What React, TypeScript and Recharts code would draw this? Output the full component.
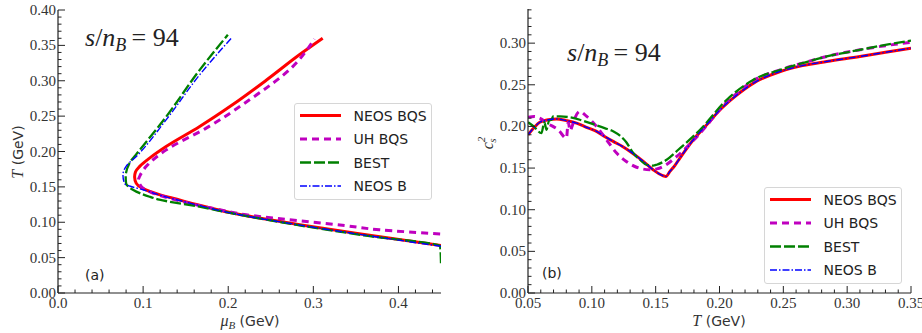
import React from 'react';
import { LineChart, Line, XAxis, YAxis } from 'recharts';

// ---- panel (a): T vs mu_B along s/n_B = 94 (points ordered by rising T) ----
const neosBqsMu = [0.45, 0.362, 0.284, 0.205, 0.16, 0.135, 0.122, 0.108, 0.099, 0.092, 0.09, 0.091, 0.096, 0.108, 0.127, 0.166, 0.205, 0.245, 0.284, 0.311];
const neosBqsT = [0.067, 0.0823, 0.0965, 0.113, 0.126, 0.134, 0.138, 0.1435, 0.148, 0.155, 0.164, 0.171, 0.179, 0.191, 0.207, 0.235, 0.266, 0.301, 0.337, 0.36];

const uhBqsMu = [0.449, 0.3776, 0.3386, 0.264, 0.221, 0.19, 0.15, 0.125, 0.11, 0.1, 0.096, 0.0945, 0.0959, 0.1037, 0.1272, 0.1741, 0.225, 0.2758, 0.3013];
const uhBqsT = [0.0835, 0.0894, 0.095, 0.1045, 0.1106, 0.1176, 0.128, 0.136, 0.142, 0.148, 0.154, 0.16, 0.1647, 0.179, 0.2023, 0.233, 0.273, 0.32, 0.359];

const bestMu = [0.45, 0.449, 0.362, 0.284, 0.205, 0.166, 0.119, 0.1077, 0.088, 0.08, 0.0795, 0.084, 0.096, 0.127, 0.1663, 0.1996];
const bestT = [0.042, 0.066, 0.081, 0.0955, 0.1125, 0.122, 0.132, 0.136, 0.146, 0.155, 0.1646, 0.1835, 0.202, 0.249, 0.315, 0.365];

const neosBMu = [0.45, 0.362, 0.284, 0.205, 0.16, 0.122, 0.0998, 0.086, 0.078, 0.0763, 0.08, 0.092, 0.127, 0.1663, 0.2035];
const neosBT = [0.066, 0.0815, 0.096, 0.1125, 0.1255, 0.1375, 0.146, 0.1505, 0.155, 0.167, 0.179, 0.193, 0.2447, 0.3082, 0.36];

// ---- panel (b): c_s^2 vs T ----
const neosBqsTb = [0.05, 0.055, 0.0592, 0.066, 0.0723, 0.08, 0.088, 0.0957, 0.1037, 0.11, 0.1167, 0.124, 0.13, 0.1353, 0.1403, 0.148, 0.1555, 0.158, 0.1612, 0.165, 0.169, 0.1795, 0.19, 0.2005, 0.213, 0.2266, 0.2476, 0.265, 0.284, 0.31, 0.33, 0.35];
const neosBqsCs2 = [0.19, 0.199, 0.205, 0.208, 0.209, 0.207, 0.204, 0.199, 0.194, 0.188, 0.182, 0.176, 0.17, 0.164, 0.158, 0.148, 0.141, 0.14, 0.146, 0.153, 0.162, 0.184, 0.202, 0.22, 0.237, 0.252, 0.266, 0.273, 0.278, 0.284, 0.289, 0.294];

const uhBqsTb = [0.05, 0.055, 0.059, 0.066, 0.0736, 0.0801, 0.0815, 0.083, 0.0845, 0.0867, 0.0906, 0.096, 0.1037, 0.1115, 0.1194, 0.127, 0.135, 0.1455, 0.151, 0.156, 0.1665, 0.175, 0.19, 0.2005, 0.213, 0.2266, 0.2476, 0.265, 0.284, 0.31, 0.33, 0.35];
const uhBqsCs2 = [0.211, 0.212, 0.21, 0.203, 0.196, 0.186, 0.205, 0.195, 0.2, 0.21, 0.218, 0.212, 0.2, 0.184, 0.168, 0.158, 0.151, 0.148, 0.149, 0.152, 0.164, 0.176, 0.201, 0.221, 0.239, 0.255, 0.268, 0.276, 0.284, 0.292, 0.297, 0.301];

const bestTb = [0.05, 0.0545, 0.0605, 0.0628, 0.0645, 0.0665, 0.0684, 0.0697, 0.075, 0.0906, 0.0945, 0.11, 0.117, 0.122, 0.127, 0.1324, 0.1377, 0.1429, 0.148, 0.1508, 0.1586, 0.1677, 0.1848, 0.2057, 0.2266, 0.2476, 0.265, 0.284, 0.31, 0.33, 0.35];
const bestCs2 = [0.205, 0.2, 0.192, 0.205, 0.196, 0.207, 0.208, 0.212, 0.212, 0.208, 0.206, 0.198, 0.194, 0.189, 0.181, 0.168, 0.16, 0.154, 0.153, 0.154, 0.16, 0.172, 0.196, 0.232, 0.256, 0.268, 0.276, 0.284, 0.292, 0.298, 0.303];

const neosBTb = [0.05, 0.055, 0.0592, 0.066, 0.0723, 0.08, 0.088, 0.0957, 0.1037, 0.11, 0.1167, 0.124, 0.13, 0.1353, 0.1403, 0.148, 0.1555, 0.158, 0.1612, 0.165, 0.169, 0.1795, 0.19, 0.2005, 0.213, 0.2266, 0.2476, 0.265, 0.284, 0.31, 0.33, 0.35];
const neosBCs2 = [0.19, 0.199, 0.205, 0.208, 0.209, 0.207, 0.204, 0.199, 0.194, 0.188, 0.182, 0.176, 0.17, 0.164, 0.158, 0.148, 0.141, 0.14, 0.146, 0.153, 0.162, 0.184, 0.202, 0.22, 0.237, 0.252, 0.266, 0.273, 0.278, 0.284, 0.289, 0.294];

// ---- ticks ----
const xMajorA = [0, 0.1, 0.2, 0.3, 0.4];
const xLabelsA = ['0.0', '0.1', '0.2', '0.3', '0.4'];
const yMajorA = [0, 0.05, 0.1, 0.15, 0.2, 0.25, 0.3, 0.35, 0.4];
const yLabelsA = ['0.00', '0.05', '0.10', '0.15', '0.20', '0.25', '0.30', '0.35', '0.40'];
const xMajorB = [0.05, 0.1, 0.15, 0.2, 0.25, 0.3, 0.35];
const xLabelsB = ['0.05', '0.10', '0.15', '0.20', '0.25', '0.30', '0.35'];
const yMajorB = [0, 0.05, 0.1, 0.15, 0.2, 0.25, 0.3];
const yLabelsB = ['0.00', '0.05', '0.10', '0.15', '0.20', '0.25', '0.30'];

const steps = (a: number, b: number, s: number) => {
  const out: number[] = [];
  for (let i = 0; a + i * s <= b + 1e-9; i++) out.push(+(a + i * s).toFixed(4));
  return out;
};
const xMinorA = steps(0, 0.44, 0.02);
const yMinorA = steps(0, 0.4, 0.01);
const xMinorB = steps(0.05, 0.35, 0.01);
const yMinorB = steps(0, 0.34, 0.01);

const series = [
  { key: 'neosBqs', name: 'NEOS BQS', color: '#ff0000', width: 3, dash: undefined as string | undefined },
  { key: 'uhBqs', name: 'UH BQS', color: '#bf00bf', width: 3, dash: '7 5' },
  { key: 'best', name: 'BEST', color: '#008000', width: 2.3, dash: '11 3' },
  { key: 'neosB', name: 'NEOS B', color: '#0000ff', width: 1.4, dash: '7 2 1.5 2' },
];

const zip = (xs: number[], ys: number[]) => xs.map((x, i) => ({ x, y: ys[i] }));
const panelA: Record<string, { x: number; y: number }[]> = {
  neosBqs: zip(neosBqsMu, neosBqsT),
  uhBqs: zip(uhBqsMu, uhBqsT),
  best: zip(bestMu, bestT),
  neosB: zip(neosBMu, neosBT),
};
const panelB: Record<string, { x: number; y: number }[]> = {
  neosBqs: zip(neosBqsTb, neosBqsCs2),
  uhBqs: zip(uhBqsTb, uhBqsCs2),
  best: zip(bestTb, bestCs2),
  neosB: zip(neosBTb, neosBCs2),
};

const SERIF = '"Liberation Serif", "DejaVu Serif", serif';
const SANS = '"DejaVu Sans", sans-serif';
const INK = '#222';

type Side = 'bottom' | 'left' | 'top' | 'right';
const tickFor = (side: Side, majors: number[], labels: string[]) => (props: any) => {
  const { x, y, payload } = props;
  const i = majors.findIndex((m) => Math.abs(m - payload.value) < 1e-6);
  const len = i >= 0 ? 7 : 3.5;
  const label = side === 'bottom' || side === 'left' ? labels[i] : undefined;
  let line;
  let text = null;
  if (side === 'bottom') {
    line = <line x1={x} y1={y} x2={x} y2={y - len} stroke={INK} strokeWidth={1} />;
    if (label) text = <text x={x} y={y + 15} textAnchor="middle" fontFamily={SERIF} fontSize={15} fill="#333">{label}</text>;
  } else if (side === 'top') {
    line = <line x1={x} y1={y} x2={x} y2={y + len} stroke={INK} strokeWidth={1} />;
  } else if (side === 'left') {
    line = <line x1={x} y1={y} x2={x + len} y2={y} stroke={INK} strokeWidth={1} />;
    if (label) text = <text x={x - 2} y={y + 5} textAnchor="end" fontFamily={SERIF} fontSize={15} fill="#333">{label}</text>;
  } else {
    line = <line x1={x} y1={y} x2={x - len} y2={y} stroke={INK} strokeWidth={1} />;
  }
  return <g>{line}{text}</g>;
};

const Panel = ({ data, xDomain, yDomain, xMajor, xLabels, xMinor, yMajor, yLabels, yMinor, width, margin, yWidth, curve }: any) => (
  <LineChart width={width} height={333} margin={margin}>
    <XAxis xAxisId="b" type="number" dataKey="x" domain={xDomain} ticks={xMinor} interval={0} allowDataOverflow
      tickSize={0} tickMargin={0} height={40} axisLine={{ stroke: INK, strokeWidth: 1.2 }} tick={tickFor('bottom', xMajor, xLabels)} />
    <XAxis xAxisId="t" orientation="top" type="number" dataKey="x" domain={xDomain} ticks={xMinor} interval={0} allowDataOverflow
      tickSize={0} tickMargin={0} height={0} axisLine={{ stroke: INK, strokeWidth: 1.2 }} tick={tickFor('top', xMajor, xLabels)} />
    <YAxis yAxisId="l" type="number" dataKey="y" domain={yDomain} ticks={yMinor} interval={0} allowDataOverflow
      tickSize={0} tickMargin={0} width={yWidth} axisLine={{ stroke: INK, strokeWidth: 1.2 }} tick={tickFor('left', yMajor, yLabels)} />
    <YAxis yAxisId="r" orientation="right" type="number" dataKey="y" domain={yDomain} ticks={yMinor} interval={0} allowDataOverflow
      tickSize={0} tickMargin={0} width={0} axisLine={{ stroke: INK, strokeWidth: 1.2 }} tick={tickFor('right', yMajor, yLabels)} />
    {series.map((s) => (
      <Line key={s.key} xAxisId="b" yAxisId="l" data={data[s.key]} dataKey="y" name={s.name} type={curve}
        stroke={s.color} strokeWidth={s.width} strokeDasharray={s.dash} dot={false} activeDot={false}
        isAnimationActive={false} />
    ))}
  </LineChart>
);

const LegendBox = ({ left, top }: { left: number; top: number }) => (
  <div style={{ position: 'absolute', left, top, width: 138, height: 97, border: '1px solid #d6d6d6', borderRadius: 3, background: 'rgba(255,255,255,0.85)', boxSizing: 'border-box' }}>
    <svg width={138} height={97} style={{ position: 'absolute', left: -1, top: -1 }}>
      {series.map((s, i) => {
        const y = 12.5 + i * 23.5;
        return (
          <g key={s.key}>
            <line x1={6} x2={47} y1={y} y2={y} stroke={s.color} strokeWidth={s.width} strokeDasharray={s.dash} />
            <text x={59.5} y={y + 5} fontFamily={SANS} fontSize={14} fill="#222">{s.name}</text>
          </g>
        );
      })}
    </svg>
  </div>
);

const SnB = ({ x, y }: { x: number; y: number }) => (
  <text x={x} y={y} fontFamily={SERIF} fontSize={26} fill="#222">
    <tspan fontStyle="italic">s</tspan>
    <tspan>/</tspan>
    <tspan fontStyle="italic">n</tspan>
    <tspan fontStyle="italic" fontSize={18} dy={5}>B</tspan>
    <tspan dy={-5}>{'\u2009= 94'}</tspan>
  </text>
);

export default function App() {
  return (
    <div style={{ position: 'absolute', left: 0, top: 0, width: 922, height: 333, background: '#fff', overflow: 'hidden' }}>
      <div style={{ position: 'absolute', left: 0, top: 0 }}>
        <Panel data={panelA} xDomain={[0, 0.45]} yDomain={[0, 0.4]} xMajor={xMajorA} xLabels={xLabelsA} xMinor={xMinorA}
          yMajor={yMajorA} yLabels={yLabelsA} yMinor={yMinorA} width={460} yWidth={58} curve="monotoneY"
          margin={{ top: 10, right: 19, bottom: 0, left: 0 }} />
      </div>
      <div style={{ position: 'absolute', left: 460, top: 0 }}>
        <Panel data={panelB} xDomain={[0.05, 0.35]} yDomain={[0, 0.341]} xMajor={xMajorB} xLabels={xLabelsB} xMinor={xMinorB}
          yMajor={yMajorB} yLabels={yLabelsB} yMinor={yMinorB} width={462} yWidth={68} curve="monotoneX"
          margin={{ top: 9, right: 11, bottom: 0, left: 0 }} />
      </div>
      <LegendBox left={294} top={103} />
      <LegendBox left={764} top={187} />
      <svg width={922} height={333} style={{ position: 'absolute', left: 0, top: 0, pointerEvents: 'none' }}>
        <SnB x={85} y={46} />
        <SnB x={567} y={61} />
        <text x={85} y={280} fontFamily={SANS} fontSize={14} fill="#222">(a)</text>
        <text x={542} y={278} fontFamily={SANS} fontSize={14} fill="#222">(b)</text>
        <text x={250} y={326} textAnchor="middle" fill="#333">
          <tspan fontFamily={SERIF} fontStyle="italic" fontSize={16}>μ</tspan>
          <tspan fontFamily={SERIF} fontStyle="italic" fontSize={11} dy={3}>B</tspan>
          <tspan fontFamily={SANS} fontSize={14} dy={-3}> (GeV)</tspan>
        </text>
        <text x={719} y={326} textAnchor="middle" fill="#333">
          <tspan fontFamily={SERIF} fontStyle="italic" fontSize={16}>T</tspan>
          <tspan fontFamily={SANS} fontSize={14}> (GeV)</tspan>
        </text>
        <text x={0} y={0} transform="translate(23,152) rotate(-90)" textAnchor="middle" fill="#333">
          <tspan fontFamily={SERIF} fontStyle="italic" fontSize={16}>T</tspan>
          <tspan fontFamily={SANS} fontSize={14}> (GeV)</tspan>
        </text>
        <text x={0} y={0} transform="translate(493,143) rotate(-90)" textAnchor="middle" fill="#333">
          <tspan fontFamily={SERIF} fontStyle="italic" fontSize={16}>c</tspan>
          <tspan fontFamily={SERIF} fontStyle="italic" fontSize={11} dy={-8}>2</tspan>
          <tspan fontFamily={SERIF} fontStyle="italic" fontSize={11} dx={-6} dy={11}>s</tspan>
        </text>
      </svg>
    </div>
  );
}
